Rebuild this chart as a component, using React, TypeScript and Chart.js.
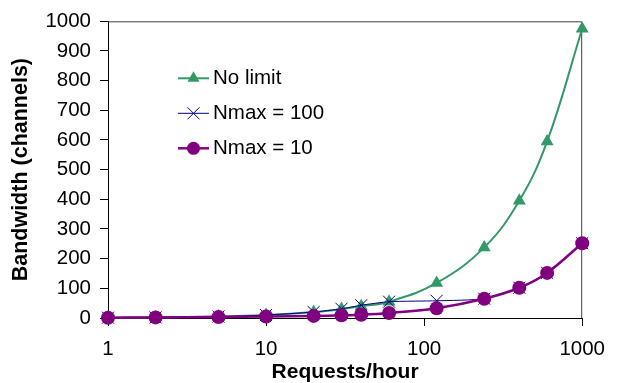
import { useEffect, useRef } from "react";
import { Chart, registerables } from "chart.js";

Chart.register(...registerables);

const requests = [1, 2, 5, 10, 20, 30, 40, 60, 120, 240, 400, 600, 1000];
const noLimit = [1, 2, 5, 10, 20, 30, 40, 55, 118, 238, 395, 595, 975];
const nmax100 = [1, 2, 5, 10, 20, 31, 43, 55, 58, 65, 102, 152, 252];
const nmax10 = [1, 2, 3, 5, 7, 9, 11, 17, 33, 65, 102, 152, 252];
const xTicks = [1, 10, 100, 1000];
const seriesNames = ["No limit", "Nmax = 100", "Nmax = 10"];

const GREEN = "#339966";
const NAVY = "#000080";
const PURPLE = "#800080";
const FONT = "'Liberation Sans', Arial, sans-serif";

const toPoints = (ys: number[]) => requests.map((x, i) => ({ x, y: ys[i] }));

function drawMarker(ctx: CanvasRenderingContext2D, kind: string, x: number, y: number, r: number, color: string) {
  ctx.save();
  if (kind === "triangle") {
    ctx.fillStyle = color;
    ctx.beginPath();
    ctx.moveTo(x, y - r);
    ctx.lineTo(x + r * 0.866, y + r * 0.5);
    ctx.lineTo(x - r * 0.866, y + r * 0.5);
    ctx.closePath();
    ctx.fill();
  } else if (kind === "cross") {
    const o = r * 0.7071;
    ctx.strokeStyle = color;
    ctx.lineWidth = 1;
    ctx.beginPath();
    ctx.moveTo(x - o, y - o);
    ctx.lineTo(x + o, y + o);
    ctx.moveTo(x - o, y + o);
    ctx.lineTo(x + o, y - o);
    ctx.stroke();
  } else {
    ctx.fillStyle = color;
    ctx.beginPath();
    ctx.arc(x, y, r, 0, Math.PI * 2);
    ctx.fill();
  }
  ctx.restore();
}

const legendPlugin = {
  id: "insideLegend",
  afterDraw(chart: any) {
    const ctx: CanvasRenderingContext2D = chart.ctx;
    const { left, top } = chart.chartArea;
    const items = [
      { name: seriesNames[0], color: GREEN, kind: "triangle", width: 2, r: 7 },
      { name: seriesNames[1], color: NAVY, kind: "cross", width: 1, r: 8.5 },
      { name: seriesNames[2], color: PURPLE, kind: "circle", width: 2.5, r: 6.5 },
    ];
    ctx.save();
    items.forEach((it, i) => {
      const y = top + 57 + i * 35;
      const x0 = left + 70;
      const x1 = left + 101;
      ctx.strokeStyle = it.color;
      ctx.lineWidth = it.width;
      ctx.beginPath();
      ctx.moveTo(x0, y);
      ctx.lineTo(x1, y);
      ctx.stroke();
      drawMarker(ctx, it.kind, (x0 + x1) / 2, y, it.r, it.color);
      ctx.fillStyle = "#000";
      ctx.font = `20.5px ${FONT}`;
      ctx.textAlign = "left";
      ctx.textBaseline = "middle";
      ctx.fillText(it.name, x1 + 4, y);
    });
    ctx.restore();
  },
};

const framePlugin = {
  id: "frame",
  beforeDatasetsDraw(chart: any) {
    const ctx: CanvasRenderingContext2D = chart.ctx;
    const { left, top, right, bottom } = chart.chartArea;
    ctx.save();
    ctx.strokeStyle = "#404040";
    ctx.lineWidth = 1;
    ctx.beginPath();
    ctx.moveTo(left, top + 0.5);
    ctx.lineTo(right - 0.5, top + 0.5);
    ctx.lineTo(right - 0.5, bottom);
    ctx.stroke();
    ctx.restore();
  },
};

export default function App() {
  const ref = useRef<HTMLCanvasElement | null>(null);

  useEffect(() => {
    document.body.style.margin = "0";
    if (!ref.current) return;
    const chart = new Chart(ref.current, {
      type: "line",
      data: {
        datasets: [
          {
            label: seriesNames[2],
            data: toPoints(nmax10),
            borderColor: PURPLE,
            backgroundColor: PURPLE,
            borderWidth: 2.5,
            pointStyle: "circle",
            pointRadius: 7,
            pointBorderWidth: 0,
            tension: 0.3,
            clip: false as any,
            order: 1,
          },
          {
            label: seriesNames[1],
            data: toPoints(nmax100),
            borderColor: NAVY,
            backgroundColor: NAVY,
            borderWidth: 1,
            pointStyle: "crossRot",
            pointRadius: 8.5,
            pointBorderWidth: 1,
            tension: 0.2,
            clip: false as any,
            order: 2,
          },
          {
            label: seriesNames[0],
            data: toPoints(noLimit),
            borderColor: GREEN,
            backgroundColor: GREEN,
            borderWidth: 2,
            pointStyle: "triangle",
            pointRadius: 7.5,
            pointBorderWidth: 0,
            tension: 0.4,
            clip: false as any,
            order: 3,
          },
        ],
      },
      options: {
        animation: false,
        responsive: false,
        maintainAspectRatio: false,
        layout: { padding: { top: 20, right: 34, left: 0, bottom: 0 } },
        plugins: {
          legend: { display: false },
          tooltip: { enabled: false },
        },
        scales: {
          x: {
            type: "logarithmic",
            min: 1,
            max: 1000,
            afterFit: (s: any) => {
              s.height = 65;
            },
            afterBuildTicks: (s: any) => {
              s.ticks = xTicks.map((v) => ({ value: v, major: true }));
            },
            border: { display: true, color: "#000", width: 1 },
            grid: { display: true, drawOnChartArea: false, color: "#000", tickLength: 8 },
            ticks: {
              color: "#000",
              font: { family: FONT, size: 20.5, lineHeight: 1 },
              padding: 13,
              maxRotation: 0,
              autoSkip: false,
              callback: (v: any) => String(v),
            },
            title: {
              display: true,
              text: "Requests/hour",
              color: "#000",
              font: { family: FONT, size: 21, weight: "bold", lineHeight: 1 },
              padding: { top: 0, bottom: 0 },
            },
          },
          y: {
            type: "linear",
            min: 0,
            max: 1000,
            afterFit: (s: any) => {
              s.width = 108;
            },
            border: { display: true, color: "#000", width: 1 },
            grid: { display: true, drawOnChartArea: false, color: "#000", tickLength: 8 },
            ticks: {
              color: "#000",
              stepSize: 100,
              font: { family: FONT, size: 20.5 },
              padding: 9,
              callback: (v: any) => String(v),
            },
            title: {
              display: true,
              text: "Bandwidth (channels)",
              color: "#000",
              font: { family: FONT, size: 21.5, weight: "bold", lineHeight: 1 },
              padding: { top: 10.5, bottom: 0 },
            },
          },
        },
      },
      plugins: [framePlugin, legendPlugin],
    });
    return () => chart.destroy();
  }, []);

  return (
    <div style={{ position: "absolute", left: 0, top: 0, width: 618, height: 383 }}>
      <canvas ref={ref} width={618} height={383} style={{ width: 618, height: 383 }} />
    </div>
  );
}
